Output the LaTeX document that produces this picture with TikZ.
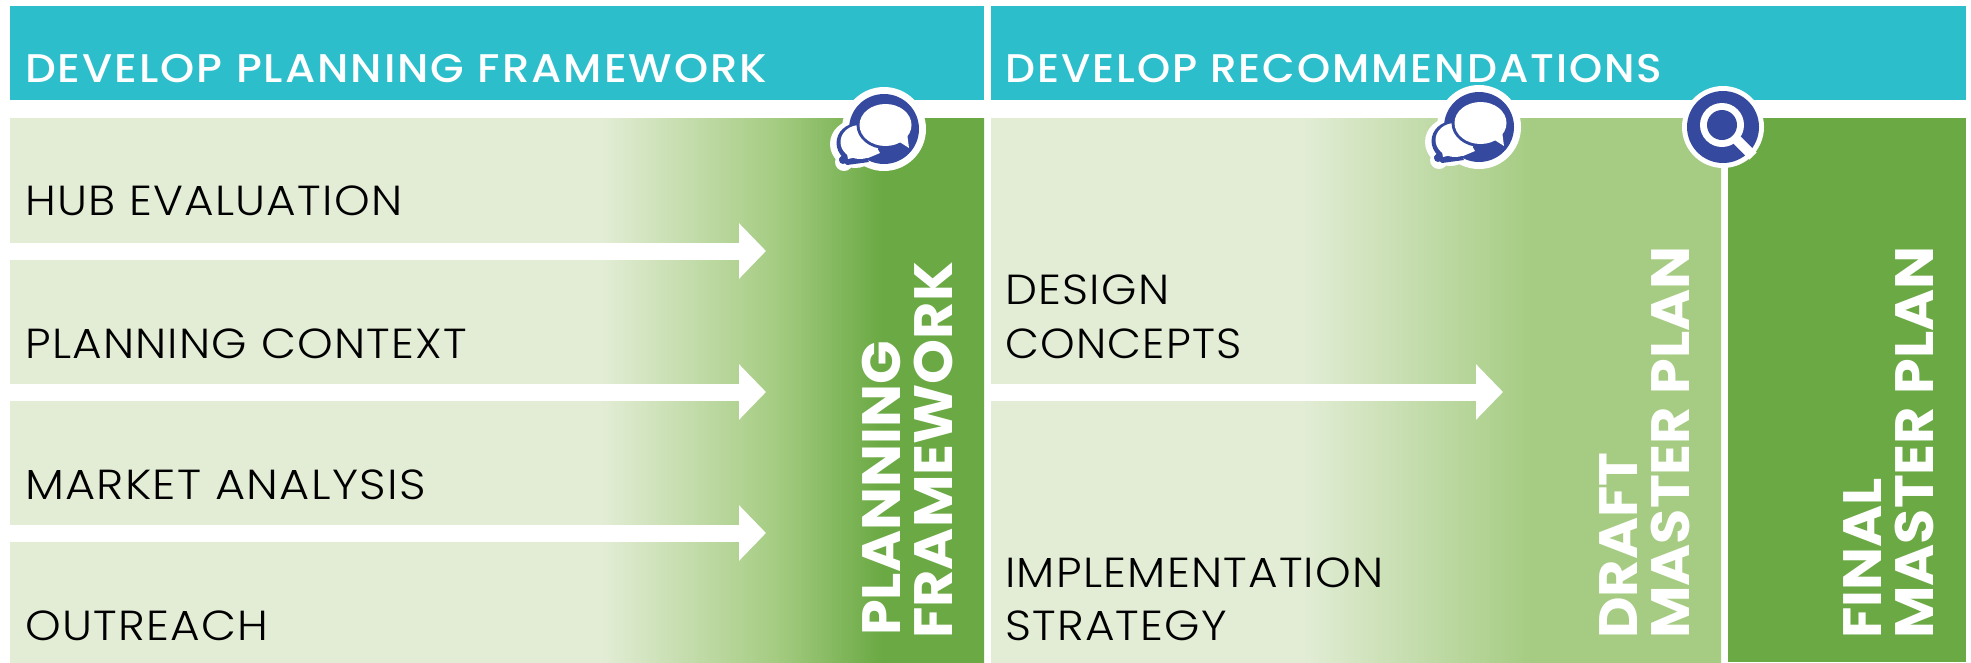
\documentclass[tikz,border=0pt]{standalone}
\usepackage{fontspec}
\usetikzlibrary{arrows.meta}
\setmainfont{Poppins}
\newfontfamily\headfont[FakeStretch=1.1,LetterSpace=5]{Poppins Medium}
\newfontfamily\lightfont[FakeStretch=1.08,LetterSpace=3]{Poppins Light}
\newfontfamily\vertfont[FakeStretch=1.06]{Poppins}
\definecolor{teal1}{HTML}{2DBECC}
\definecolor{pale}{HTML}{E3EDD6}
\definecolor{midg}{HTML}{A5CC82}
\definecolor{deep}{HTML}{6AA943}
\definecolor{iconblue}{HTML}{35499E}
\pgfdeclarehorizontalshading{leftgrad}{100bp}{color(0bp)=(pale);color(25bp)=(pale);color(55.3bp)=(pale);color(64.3bp)=(midg);color(69.8bp)=(deep);color(100bp)=(deep)}
\pgfdeclarehorizontalshading{rightgrad}{100bp}{color(0bp)=(pale);color(25bp)=(pale);color(46.2bp)=(pale);color(62.1bp)=(midg);color(100bp)=(midg)}
\tikzset{
  x=1pt,y=-1pt,
  headtext/.style={anchor=base west,inner sep=0pt,text=white,font=\headfont\fontsize{40}{40}\selectfont},
  bodytext/.style={anchor=base west,inner sep=0pt,text=black,font=\lightfont\fontsize{42}{42}\selectfont},
  vert/.style={anchor=base west,inner sep=0pt,rotate=90,text=white,font=\vertfont\bfseries\fontsize{54}{54}\selectfont},
  flow/.style={draw=white,line width=17pt,-{Triangle[length=27pt,width=54pt]}},
  squeeze/.style={xscale=#1,transform shape},
  chat/.pic={
    \fill[white] (0,0) circle (42);
    \fill[white] (-29,15) ellipse (25 and 24);
    \fill[white] (-40,33) circle (9);
    \fill[iconblue] (0,0) circle (35);
    \fill[iconblue] (-26,14) ellipse (21.5 and 20);
    \fill[iconblue] (-41,31) circle (4);
    \fill[iconblue] (-45,30) -- (-37,36) -- (-15,33) -- (-30,10) -- cycle;
    \fill[white] (-24,13) ellipse (19.5 and 17);
    \fill[white] (-38,20) -- (-36,30) -- (-26,27.5) -- (-16,29) -- (-4,24) -- (-10,14) -- cycle;
    \fill[iconblue] (1.5,-4) ellipse (29 and 24);
    \fill[white] (1.5,-4) ellipse (26 and 21);
    \fill[white] (14,12) -- (25,19) -- (23,4) -- cycle;
  }
}
\begin{document}
\begin{tikzpicture}
\useasboundingbox (0,0) rectangle (1971,662);
\fill[white] (0,0) rectangle (1971,662);
% headers
\fill[teal1] (10,6) rectangle (984,100);
\fill[teal1] (991,6) rectangle (1966,100);
% panels
\shade[shading=leftgrad] (10,118) rectangle (984,662);
\shade[shading=rightgrad] (991,118) rectangle (1721,662);
\fill[deep] (1728,118) rectangle (1966,662);
% connectors
\coordinate (a1) at (0,251); \coordinate (b1) at (766,251);
\coordinate (a2) at (0,392); \coordinate (b2) at (766,392);
\coordinate (a3) at (0,533); \coordinate (b3) at (766,533);
\coordinate (a4) at (985,392); \coordinate (b4) at (1503,392);
\draw[flow] (a1) -- (b1);
\draw[flow] (a2) -- (b2);
\draw[flow] (a3) -- (b3);
\draw[flow] (a4) -- (b4);
% headers text
\node[headtext,squeeze=0.988] (h1) at (25,82) {DEVELOP PLANNING FRAMEWORK};
\node[headtext,squeeze=0.96] (h2) at (1005,82) {DEVELOP RECOMMENDATIONS};
% body text
\node[bodytext] (t1) at (25,215) {HUB EVALUATION};
\node[bodytext] (t2) at (25,358) {PLANNING CONTEXT};
\node[bodytext,squeeze=1.02] (t3) at (25,499) {MARKET ANALYSIS};
\node[bodytext] (t4) at (25,640) {OUTREACH};
\node[bodytext] (t5) at (1005,304) {DESIGN};
\node[bodytext,squeeze=0.97] (t6) at (1005,358) {CONCEPTS};
\node[bodytext] (t7) at (1005,587) {IMPLEMENTATION};
\node[bodytext] (t8) at (1005,640) {STRATEGY};
% vertical
\node[vert] (v1) at (900,636) {PLANNING};
\node[vert] (v2) at (952,639) {FRAMEWORK};
\node[vert] (v3) at (1637,639) {DRAFT};
\node[vert] (v4) at (1689,639) {MASTER PLAN};
\node[vert] (v5) at (1881,639) {FINAL};
\node[vert] (v6) at (1933,639) {MASTER PLAN};
% icons
\pic at (884,129) {chat};
\pic at (1479,127) {chat};
\fill[white] (1723,127) circle (41);
\fill[iconblue] (1723,127) circle (36);
\draw[white,line width=10pt] (1737,140) -- (1753,156);
\fill[white] (1722,125) circle (22);
\fill[iconblue] (1722,125) circle (15);
\end{tikzpicture}
\end{document}
